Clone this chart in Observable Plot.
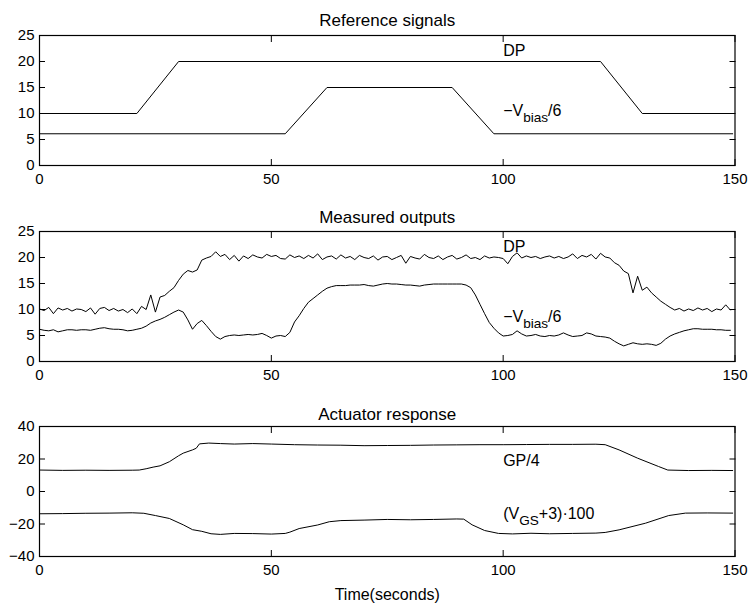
<!DOCTYPE html>
<html><head><meta charset="utf-8">
<script src="https://cdn.jsdelivr.net/npm/d3@7"></script>
<script src="https://cdn.jsdelivr.net/npm/@observablehq/plot@0.6"></script>
<style>
body{margin:0;background:#fff;}
#chart{width:749px;}
#chart svg{display:block;}
</style></head><body><div id="chart"></div>
<script>
// ---------- shared ticks ----------
const xTicks = [0, 50, 100, 150];
const refYTicks = [0, 5, 10, 15, 20, 25];
const actYTicks = [-40, -20, 0, 20, 40];

// ---------- panel 1: reference signals ----------
const refTimeDP = [0, 21, 30, 121, 130, 149.5];
const refDP     = [10, 10, 20, 20, 10, 10];
const refTimeVb = [0, 53, 62, 89, 98, 149.5];
const refVb     = [6.1, 6.1, 15, 15, 6.1, 6.1];

// ---------- panel 2: measured outputs (one sample per second, t = 0..149) ----------
const measStep = 1;
const measDP = [
 10.1, 9.8,10.4, 9.2,10.3, 9.9,10.2, 9.7,10.1,10.0,
  9.6,10.3, 9.1,10.2,10.4, 9.8,10.2, 9.7,10.0, 9.4,
 10.1, 9.2,10.6,10.0,12.8, 9.5,12.4,12.7,13.5,14.2,
 15.6,16.8,17.5,17.2,17.6,19.5,19.9,20.2,21.1,20.2,
 20.6,19.6,20.4,19.3,20.3,19.8,20.5,20.1,19.9,20.6,
 20.2,20.4,19.8,19.7,20.5,20.0,20.3,19.8,20.4,19.9,
 20.7,19.6,20.1,20.3,19.7,20.5,19.9,20.2,19.6,20.4,
 20.0,19.8,20.3,19.5,20.1,20.2,19.6,20.0,20.4,18.9,
 20.2,19.9,19.7,20.6,20.0,19.8,20.3,19.6,20.1,20.4,
 19.7,20.0,20.5,19.8,20.0,19.6,20.3,19.9,20.1,20.0,
 19.8,18.8,20.2,20.9,19.9,20.3,20.0,20.2,19.8,20.1,
 20.3,19.9,20.2,19.8,20.1,20.7,19.8,20.4,20.1,20.6,
 19.7,20.8,20.1,19.9,19.0,18.5,17.4,16.9,13.2,16.4,
 13.7,14.3,13.2,12.4,11.6,11.0,10.4, 9.9,10.2, 9.7,
 10.1, 9.8,10.3, 9.9,10.2, 9.6,10.1, 9.9,10.9, 9.9
];
const measVb = [
  6.2, 6.0, 5.9, 6.1, 5.7, 5.9, 6.1, 6.1, 6.0, 6.1,
  6.1, 6.0, 6.2, 6.4, 6.5, 6.3, 6.2, 6.2, 6.1, 5.9,
  6.0, 6.2, 6.4, 6.8, 7.4, 7.8, 8.1, 8.5, 9.0, 9.5,
  9.9, 9.5, 8.0, 6.2, 7.3, 7.9, 6.9, 5.8, 4.8, 4.3,
  4.8, 5.0, 5.1, 5.0, 5.1, 5.2, 5.1, 5.2, 5.4, 5.0,
  4.5, 4.9, 5.0, 4.8, 5.6, 7.6, 8.8,10.2,11.4,12.1,
 12.8,13.5,14.1,14.4,14.6,14.6,14.6,14.7,14.7,14.7,
 14.8,14.6,14.5,14.7,14.9,15.0,14.9,14.9,14.8,14.7,
 14.7,14.6,14.5,14.7,14.8,14.9,14.9,14.9,14.9,14.9,
 14.9,14.9,14.7,14.2,12.8,11.0, 9.2, 7.5, 6.4, 5.5,
  4.9, 5.0, 5.2, 5.9, 5.3, 4.9, 5.0, 5.2, 4.9, 4.8,
  5.0, 4.9, 5.1, 5.5, 5.1, 4.8, 4.9, 5.0, 5.5, 5.3,
  4.9, 4.8, 4.7, 4.5, 3.9, 3.4, 3.0, 3.3, 3.6, 3.4,
  3.3, 3.4, 3.3, 3.1, 3.5, 4.3, 4.9, 5.3, 5.6, 5.9,
  6.1, 6.3, 6.3, 6.2, 6.2, 6.2, 6.1, 6.1, 6.0, 6.0
];

// ---------- panel 3: actuator response ----------
const actTimeGP = [0,5,10,15,20,21.5,23,24.5,26,28,30,31,33,33.8,34.5,36.5,39,42,46,50,55,60,65,70,75,80,85,90,95,100,105,110,115,120,122,125,129,133.5,135.5,140,145,149.5];
const actGP     = [13.2,13.0,13.1,13.0,13.1,13.2,14.0,15.0,15.8,18.3,22.0,23.6,25.6,26.6,29.3,29.8,29.5,29.2,29.5,29.2,28.8,28.6,28.5,28.2,28.3,28.4,28.6,28.7,28.8,28.8,28.9,29.0,29.0,29.1,28.8,25.6,20.5,15.4,13.2,12.9,13.0,12.9];
const actTimeVGS = [0,5,10,15,20,22.5,25,28,31,33,35,37,39,42,46,50,53,54,56,60,62.5,65,70,75,80,85,90,91.5,93.3,96,99,102,106,110,115,120,122,125,130.7,135.7,139.3,144,149.5];
const actVGS     = [-13.7,-13.6,-13.4,-13.3,-13.1,-13.4,-14.8,-16.6,-20.5,-23.5,-24.5,-26.0,-26.4,-25.8,-25.9,-26.2,-25.8,-25.0,-22.8,-20.6,-18.6,-17.9,-17.6,-17.2,-17.4,-17.2,-16.9,-17.0,-20.5,-24.0,-25.8,-26.1,-25.7,-26.0,-25.8,-25.6,-25.2,-23.6,-19.5,-14.8,-13.3,-13.2,-13.3];

// ---------- titles and annotations ----------
const titles = ["Reference signals", "Measured outputs", "Actuator response"];
const xLabel = "Time(seconds)";
const notes1 = [{x: 100, y: 22.0, text: "DP"}, {x: 100, y: 10.6, text: "\u2212V_{bias}/6"}];
const notes2 = [{x: 100, y: 22.0, text: "DP"}, {x: 100, y: 8.6, text: "\u2212V_{bias}/6"}];
const notes3 = [{x: 100, y: 19.0, text: "GP/4"}, {x: 100, y: -13.5, text: "(V_{GS}+3)\u00b7100"}];

// ---------- helpers ----------
const FONT = '"Liberation Sans", Arial, Helvetica, sans-serif';
const pairs = (ts, vs) => ts.map((t, i) => ({t, v: vs[i]}));
const sampled = (vs, step) => vs.map((v, i) => ({t: i * step, v}));

function subscriptify(svg) {
  const ns = "http://www.w3.org/2000/svg";
  svg.querySelectorAll("text").forEach(el => {
    const s = el.textContent;
    const m = s.match(/^(.*)_\{(.*)\}(.*)$/);
    if (!m) return;
    el.textContent = "";
    const a = document.createElementNS(ns, "tspan"); a.textContent = m[1];
    const b = document.createElementNS(ns, "tspan"); b.textContent = m[2];
    b.setAttribute("dy", "6"); b.setAttribute("font-size", "0.85em");
    const c = document.createElementNS(ns, "tspan"); c.textContent = m[3];
    c.setAttribute("dy", "-6");
    el.append(a, b, c);
  });
}

function panel({height, marginTop, marginBottom, yDomain, yTicks, series, title, titleDy, notes, xlab}) {
  const marks = [
    Plot.frame({stroke: "black", strokeWidth: 1.2}),
    Plot.axisX({ticks: xTicks, tickSize: 0, tickPadding: 8, label: null}),
    Plot.axisX({ticks: xTicks, anchor: "bottom", tickSize: -6, fill: "none", label: null}),
    Plot.axisX({ticks: xTicks, anchor: "top", tickSize: -6, fill: "none", label: null}),
    Plot.axisY({ticks: yTicks, tickSize: 0, tickPadding: 5, label: null}),
    Plot.axisY({ticks: yTicks, anchor: "left", tickSize: -6, fill: "none", label: null}),
    Plot.axisY({ticks: yTicks, anchor: "right", tickSize: -6, fill: "none", label: null}),
    ...series.map(s => Plot.line(s, {x: "t", y: "v", stroke: "black", strokeWidth: 1})),
    Plot.text(notes, {x: "x", y: "y", text: "text", textAnchor: "start", fontSize: 16}),
    Plot.text([title], {text: d => d, frameAnchor: "top", dy: titleDy, fontSize: 17})
  ];
  if (xlab) marks.push(Plot.text([xlab], {text: d => d, frameAnchor: "bottom", dy: 43, fontSize: 16}));
  const svg = Plot.plot({
    width: 749, height, marginTop, marginBottom, marginLeft: 39, marginRight: 14.5,
    style: {fontFamily: FONT, fontSize: "15px", color: "black", background: "white", overflow: "visible"},
    x: {domain: [0, 150]},
    y: {domain: yDomain},
    marks
  });
  subscriptify(svg);
  return svg;
}

const chart = document.getElementById("chart");
chart.append(panel({
  height: 196, marginTop: 35, marginBottom: 31, yDomain: [0, 25], yTicks: refYTicks,
  series: [pairs(refTimeDP, refDP), pairs(refTimeVb, refVb)],
  title: titles[0], titleDy: -22, notes: notes1
}));
chart.append(panel({
  height: 196, marginTop: 35, marginBottom: 31, yDomain: [0, 25], yTicks: refYTicks,
  series: [sampled(measDP, measStep), sampled(measVb, measStep)],
  title: titles[1], titleDy: -21, notes: notes2
}));
chart.append(panel({
  height: 213, marginTop: 34, marginBottom: 49, yDomain: [-40, 40], yTicks: actYTicks,
  series: [pairs(actTimeGP, actGP), pairs(actTimeVGS, actVGS)],
  title: titles[2], titleDy: -19, notes: notes3, xlab: xLabel
}));
</script></body></html>
